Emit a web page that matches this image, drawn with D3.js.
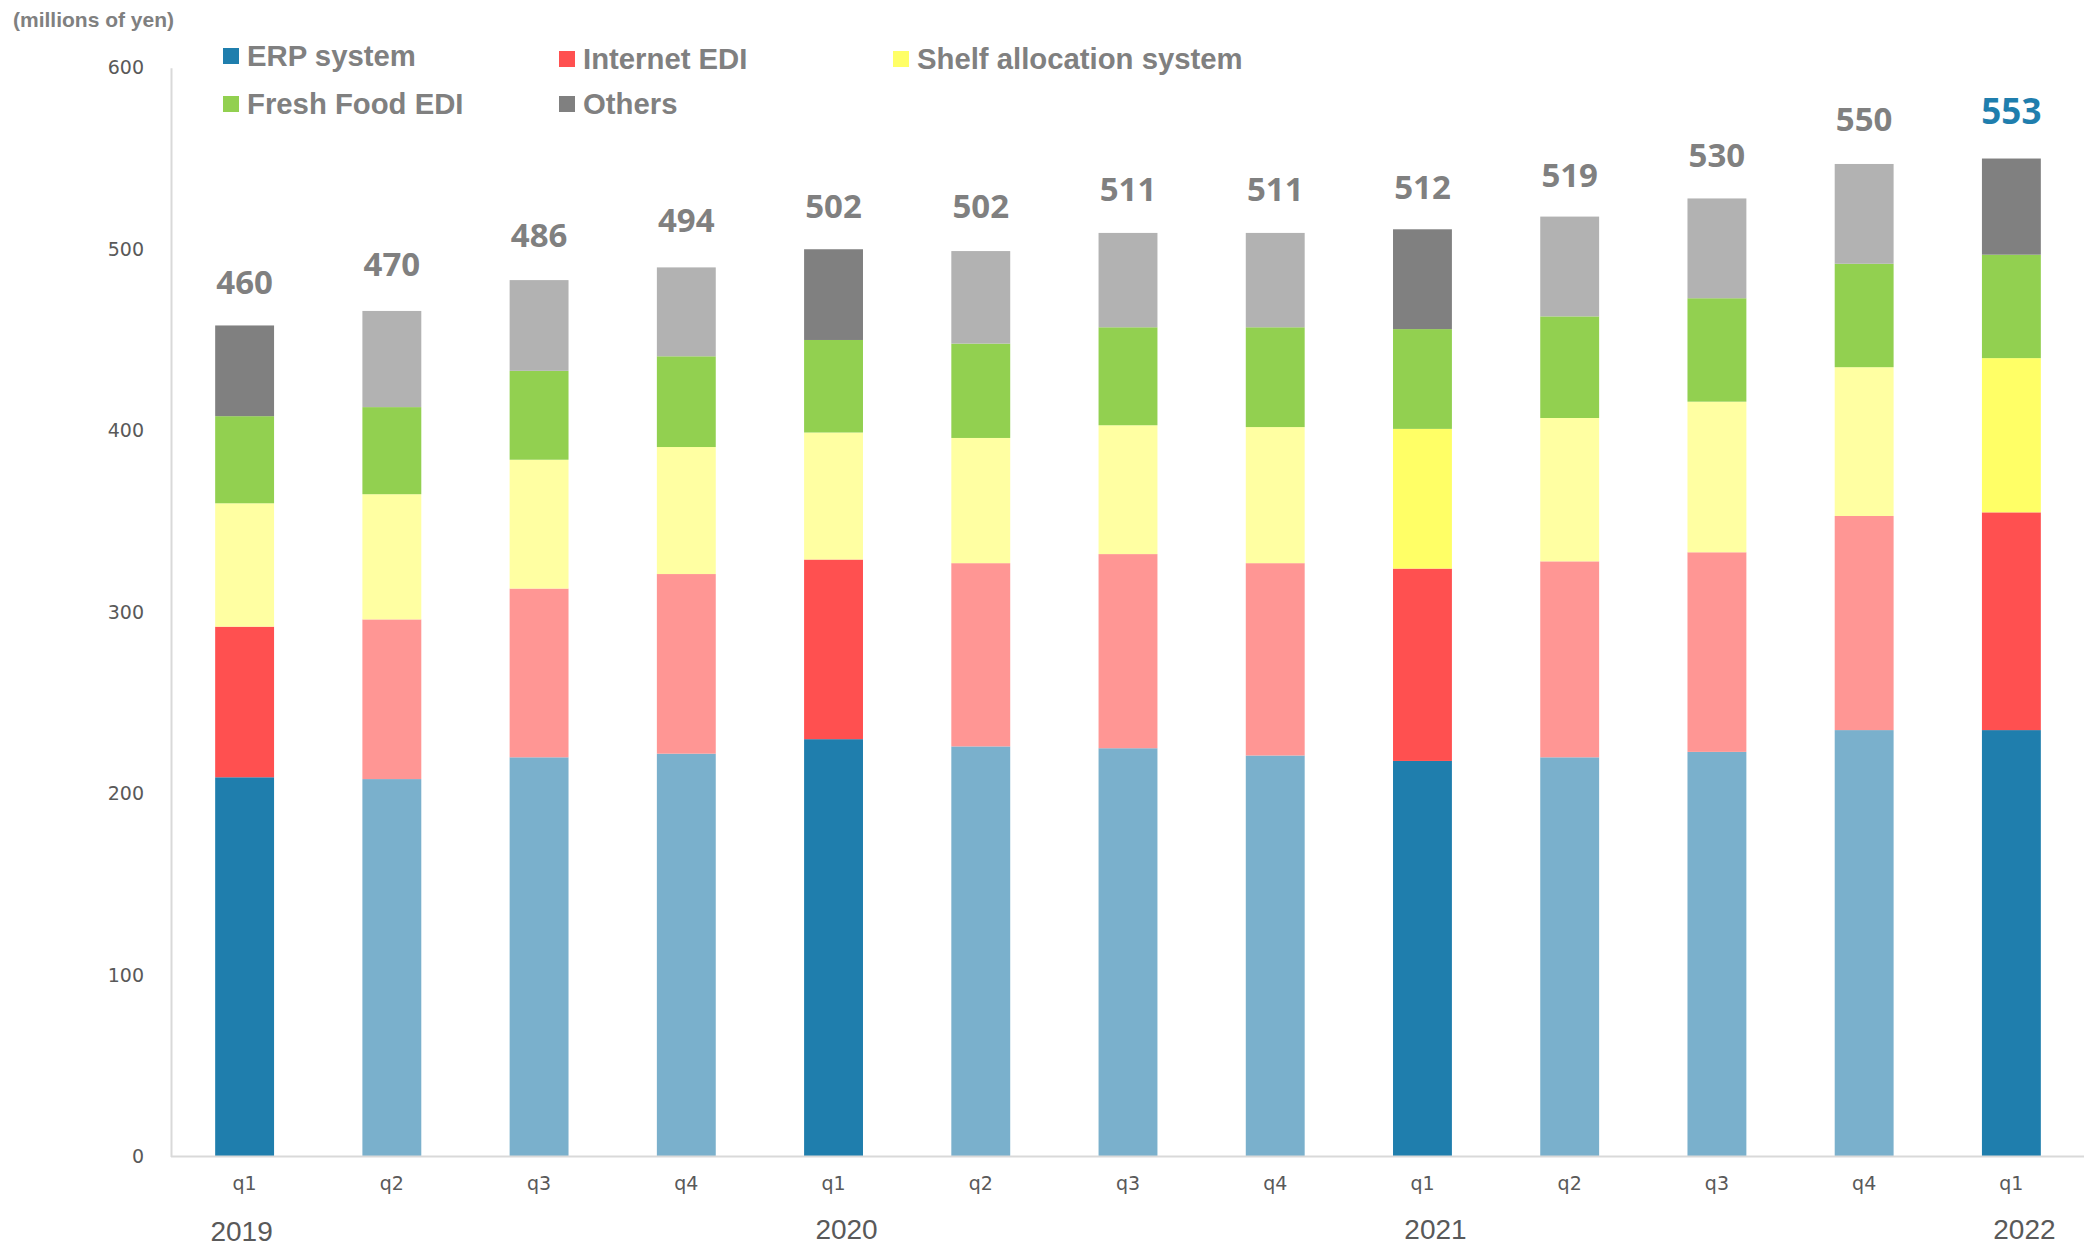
<!DOCTYPE html>
<html>
<head>
<meta charset="utf-8">
<script src="https://cdn.jsdelivr.net/npm/d3@7"></script>
<style>
  html, body { margin: 0; padding: 0; background: #fff; }
  svg { display: block; }
</style>
</head>
<body>
<svg id="chart" width="2084" height="1246"></svg>
<script>
// ---- data ----
const quarters = ["q1","q2","q3","q4","q1","q2","q3","q4","q1","q2","q3","q4","q1"];
const years    = ["2019","","","","2020","","","","2021","","","","2022"];
const seriesNames = ["ERP system","Internet EDI","Shelf allocation system","Fresh Food EDI","Others"];
const erpSystem   = [209, 208, 220, 222, 230, 226, 225, 221, 218, 220, 223, 235, 235];
const internetEdi = [83, 88, 93, 99, 99, 101, 107, 106, 106, 108, 110, 118, 120];
const shelfAlloc  = [68, 69, 71, 70, 70, 69, 71, 75, 77, 79, 83, 82, 85];
const freshFood   = [48, 48, 49, 50, 51, 52, 54, 55, 55, 56, 57, 57, 57];
const others      = [50, 53, 50, 49, 50, 51, 52, 52, 55, 55, 55, 55, 53];
const totals      = [460, 470, 486, 494, 502, 502, 511, 511, 512, 519, 530, 550, 553];
const yTicks      = [0, 100, 200, 300, 400, 500, 600];
const unitLabel   = "(millions of yen)";
// which bars are shown in full colour, per series
const highlighted = [
  [true, false, false, false, true, false, false, false, true, false, false, false, true],   // ERP
  [true, false, false, false, true, false, false, false, true, false, false, false, true],   // Internet EDI
  [false, false, false, false, false, false, false, false, true, false, false, false, true], // Shelf
  [true, false, false, false, true, false, false, false, true, false, false, false, true],   // Fresh
  [true, false, false, false, true, false, false, false, true, false, false, false, true]    // Others
];

// ---- styles ----
const darkColors  = ["#1F7EAD", "#FF5050", "#FFFF66", "#92D050", "#808080"];
const lightColors = ["#7AB0CC", "#FF9694", "#FFFFA2", "#92D050", "#B2B2B2"];

const svg = d3.select("#chart");
const W = 2084, H = 1246;
const x0 = 171, x1 = 2085, yBase = 1156.5, yTop = 67.8;

const idx = d3.range(quarters.length);
const x = d3.scaleBand().domain(idx).range([x0, x1]).paddingInner(0.6).paddingOuter(0.3);
const y = d3.scaleLinear().domain([0, 600]).range([yBase, yTop]);

const rows = idx.map(i => ({
  i,
  "ERP system": erpSystem[i],
  "Internet EDI": internetEdi[i],
  "Shelf allocation system": shelfAlloc[i],
  "Fresh Food EDI": freshFood[i],
  "Others": others[i]
}));
const stack = d3.stack().keys(seriesNames)(rows);

// bars
stack.forEach((layer, k) => {
  svg.append("g").selectAll("rect").data(layer).join("rect")
    .attr("x", d => x(d.data.i))
    .attr("width", x.bandwidth())
    .attr("y", d => y(d[1]))
    .attr("height", d => y(d[0]) - y(d[1]))
    .attr("fill", d => highlighted[k][d.data.i] ? darkColors[k] : lightColors[k]);
});

// axes
const yAxis = d3.axisLeft(y).tickValues(yTicks).tickSize(0).tickPadding(27);
const gy = svg.append("g").attr("transform", `translate(${x0},0)`).call(yAxis);
gy.select(".domain").attr("stroke", "#D9D9D9").attr("stroke-width", 2);
gy.selectAll("text").attr("font-family", "DejaVu Sans").attr("font-size", 19).attr("fill", "#595959");

const xAxis = d3.axisBottom(x).tickFormat(i => quarters[i]).tickSize(0).tickPadding(20);
const gx = svg.append("g").attr("transform", `translate(0,${yBase})`).call(xAxis);
gx.select(".domain").attr("stroke", "#D9D9D9").attr("stroke-width", 2).attr("d", `M${x0},0H${W}`);
gx.selectAll("text").attr("font-family", "DejaVu Sans").attr("font-size", 19).attr("fill", "#595959");

// year labels
svg.append("g").selectAll("text").data(idx.filter(i => years[i] !== "")).join("text")
  .attr("x", i => x(i) + x.bandwidth() / 2 + (i === 0 ? -3 : 13))
  .attr("y", i => i === 0 ? 1241 : 1239)
  .attr("text-anchor", "middle")
  .attr("font-family", "Liberation Sans")
  .attr("font-size", 28)
  .attr("fill", "#595959")
  .text(i => years[i]);

// total labels
const last = idx.length - 1;
svg.append("g").selectAll("text").data(idx).join("text")
  .attr("x", i => x(i) + x.bandwidth() / 2)
  .attr("y", i => y(totals[i]) - (i === last ? 29 : 28))
  .attr("text-anchor", "middle")
  .attr("font-family", "Open Sans")
  .attr("font-weight", "bold")
  .attr("font-size", i => i === last ? 35 : 33)
  .attr("fill", i => i === last ? "#1F7EAD" : "#808080")
  .text(i => totals[i]);

// unit label
svg.append("text")
  .attr("x", 13).attr("y", 27)
  .attr("font-family", "Liberation Sans").attr("font-weight", "bold")
  .attr("font-size", 21).attr("fill", "#808080")
  .text(unitLabel);

// legend
const legendCols = [223, 559, 893];
const legendRows = [56, 104];
const lg = svg.append("g");
seriesNames.forEach((name, k) => {
  const col = k < 3 ? k : k - 3;
  const row = k < 3 ? 0 : 1;
  const lx = legendCols[col], ly = legendRows[row] + (row === 0 && col > 0 ? 3 : 0);
  lg.append("rect").attr("x", lx).attr("y", ly - 8).attr("width", 16).attr("height", 16)
    .attr("fill", darkColors[k]);
  lg.append("text").attr("x", lx + 24).attr("y", ly + 10)
    .attr("font-family", "Liberation Sans").attr("font-weight", "bold")
    .attr("font-size", 29.3).attr("fill", "#808080")
    .text(name);
});
</script>
</body>
</html>
